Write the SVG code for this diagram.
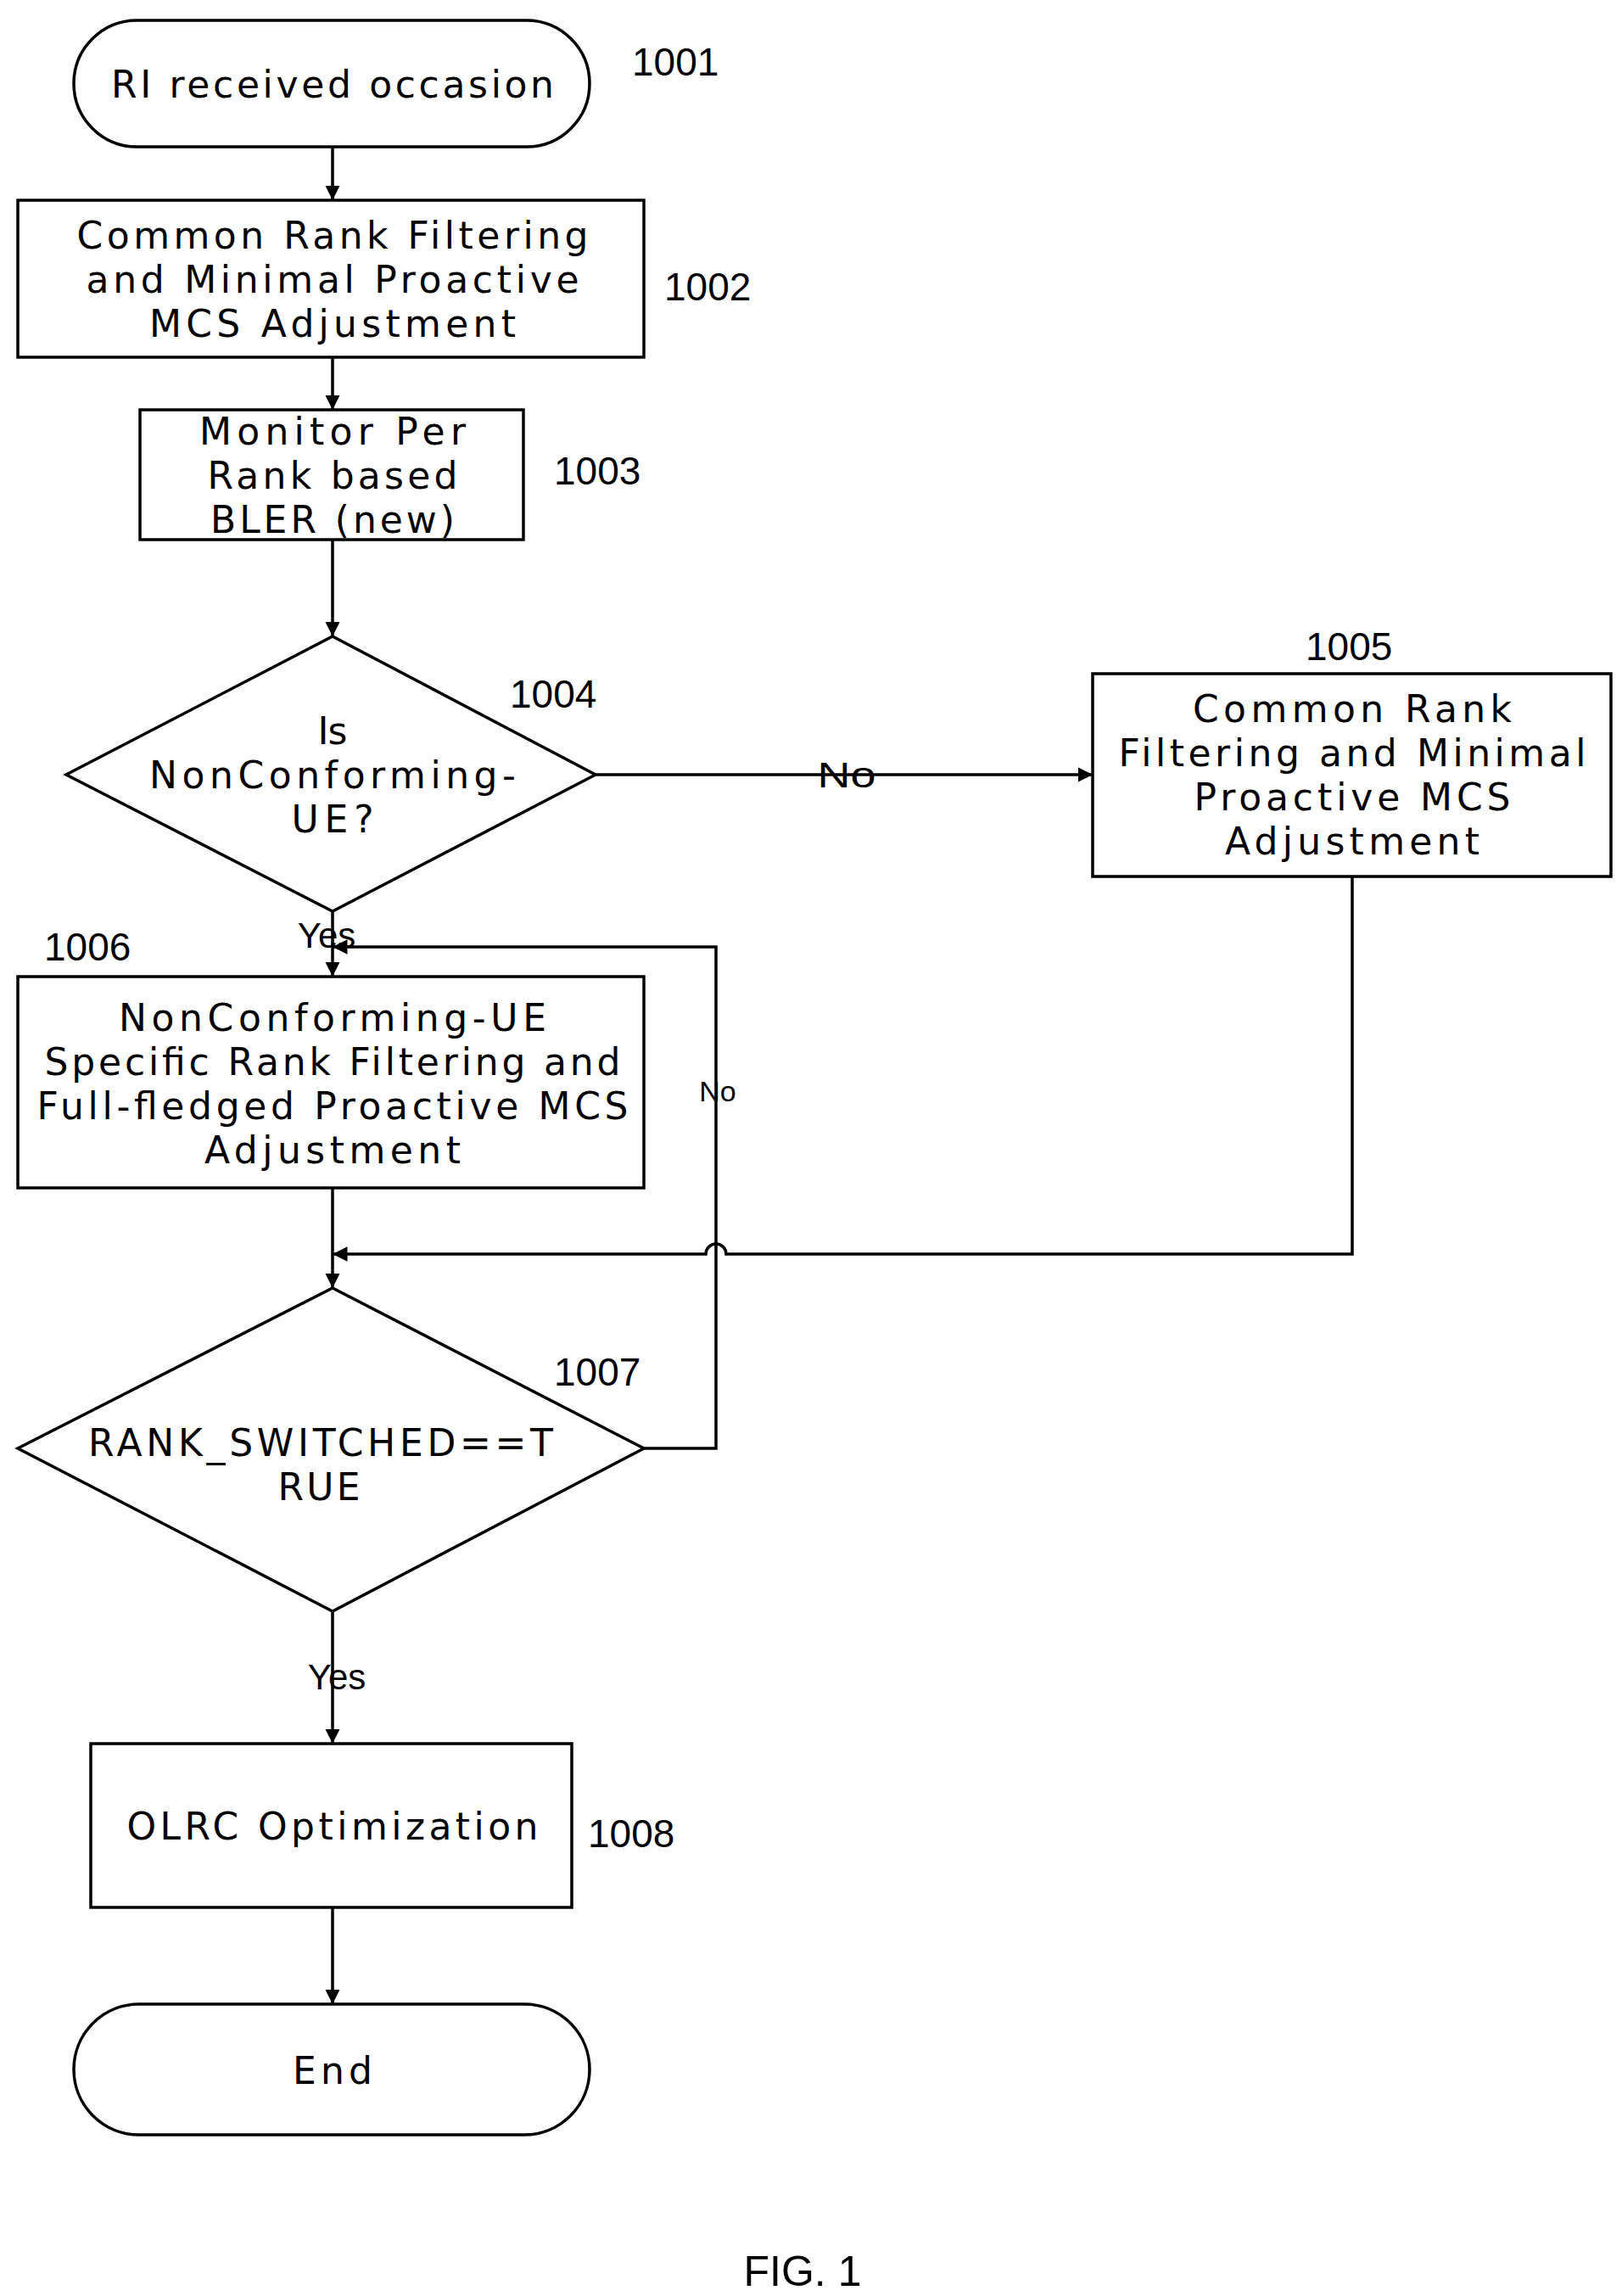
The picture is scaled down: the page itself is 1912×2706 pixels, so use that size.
<svg xmlns="http://www.w3.org/2000/svg" width="1912" height="2706" viewBox="0 0 1912 2706">
<style>
.s{fill:#fff;stroke:#000;stroke-width:3.5}
.c{fill:none;stroke:#000;stroke-width:3.5}
.t{font-family:"DejaVu Sans",sans-serif;font-size:44px;text-anchor:middle;dominant-baseline:central;fill:#000}
.n{font-family:"Liberation Sans",sans-serif;font-size:46px;fill:#000;dominant-baseline:central}
.l{font-family:"Liberation Sans",sans-serif;font-size:42px;text-anchor:middle;dominant-baseline:central;fill:#000}
</style>
<defs><marker id="a" viewBox="0 0 10 10" refX="10" refY="5" markerWidth="5" markerHeight="5" orient="auto"><path d="M0,0L10,5L0,10z" fill="#000"/></marker></defs>
<rect width="1912" height="2706" fill="#fff"/>
<g id="connectors">
<path class="c" d="M392,173V236" marker-end="url(#a)"/>
<path class="c" d="M392,421V483" marker-end="url(#a)"/>
<path class="c" d="M392,636V750" marker-end="url(#a)"/>
<path class="c" d="M392,1074V1151" marker-end="url(#a)"/>
<path class="c" d="M702,913H1288" marker-end="url(#a)"/>
<path class="c" d="M392,1400V1518" marker-end="url(#a)"/>
<path class="c" d="M392,1899V2055" marker-end="url(#a)"/>
<path class="c" d="M392,2248V2362" marker-end="url(#a)"/>
<path class="c" d="M759,1707H844V1116H392" marker-end="url(#a)"/>
<path class="c" d="M1594,1033V1478H856A12,12 0 0 0 832,1478H392" marker-end="url(#a)"/>
<text class="l" x="998" y="913" textLength="69" lengthAdjust="spacingAndGlyphs">No</text>
<text class="l" x="385" y="1102">Yes</text>
<text class="l" x="846" y="1286" style="font-size:34px">No</text>
<text class="l" x="397" y="1976">Yes</text>
</g>
<g id="n1001"><rect class="s" x="87" y="24" width="608" height="149" rx="74.5"/>
<text class="t" x="392" y="99" textLength="522">RI received occasion</text>
<text class="n" x="745" y="73">1001</text></g>
<g id="n1002"><rect class="s" x="21" y="236" width="738" height="185"/>
<text class="t" x="392" y="277" textLength="603">Common Rank Filtering</text>
<text class="t" x="392" y="329" textLength="581">and Minimal Proactive</text>
<text class="t" x="392" y="381" textLength="432">MCS Adjustment</text>
<text class="n" x="783" y="338">1002</text></g>
<g id="n1003"><rect class="s" x="165" y="483" width="452" height="153"/>
<text class="t" x="392" y="508" textLength="314">Monitor Per</text>
<text class="t" x="392" y="560" textLength="295">Rank based</text>
<text class="t" x="392" y="612" textLength="288">BLER (new)</text>
<text class="n" x="653" y="555">1003</text></g>
<g id="n1004"><path class="s" d="M392,750L702,913L392,1074L78,913Z"/>
<text class="t" x="392" y="861" textLength="35">Is</text>
<text class="t" x="392" y="913" textLength="432">NonConforming-</text>
<text class="t" x="392" y="965" textLength="97">UE?</text>
<text class="n" x="601" y="818">1004</text></g>
<g id="n1005"><rect class="s" x="1288" y="794" width="611" height="239"/>
<text class="t" x="1594" y="835" textLength="376">Common Rank</text>
<text class="t" x="1594" y="887" textLength="551">Filtering and Minimal</text>
<text class="t" x="1594" y="939" textLength="373">Proactive MCS</text>
<text class="t" x="1594" y="991" textLength="300">Adjustment</text>
<text class="n" x="1539" y="762">1005</text></g>
<g id="n1006"><rect class="s" x="21" y="1151" width="738" height="249"/>
<text class="t" x="392" y="1199" textLength="504">NonConforming-UE</text>
<text class="t" x="392" y="1251" textLength="679">Specific Rank Filtering and</text>
<text class="t" x="392" y="1303" textLength="697">Full-fledged Proactive MCS</text>
<text class="t" x="392" y="1355" textLength="302">Adjustment</text>
<text class="n" x="52" y="1116">1006</text></g>
<g id="n1007"><path class="s" d="M392,1518L759,1707L392,1899L21,1707Z"/>
<text class="t" x="378" y="1700" textLength="548">RANK_SWITCHED==T</text>
<text class="t" x="376" y="1752" textLength="97">RUE</text>
<text class="n" x="653" y="1617">1007</text></g>
<g id="n1008"><rect class="s" x="107" y="2055" width="567" height="193"/>
<text class="t" x="392" y="2152" textLength="485">OLRC Optimization</text>
<text class="n" x="693" y="2161">1008</text></g>
<g id="end"><rect class="s" x="87" y="2362" width="608" height="154" rx="77"/>
<text class="t" x="392" y="2440" textLength="94">End</text></g>
<text class="l" x="946" y="2677" style="font-size:50px">FIG. 1</text>
</svg>
